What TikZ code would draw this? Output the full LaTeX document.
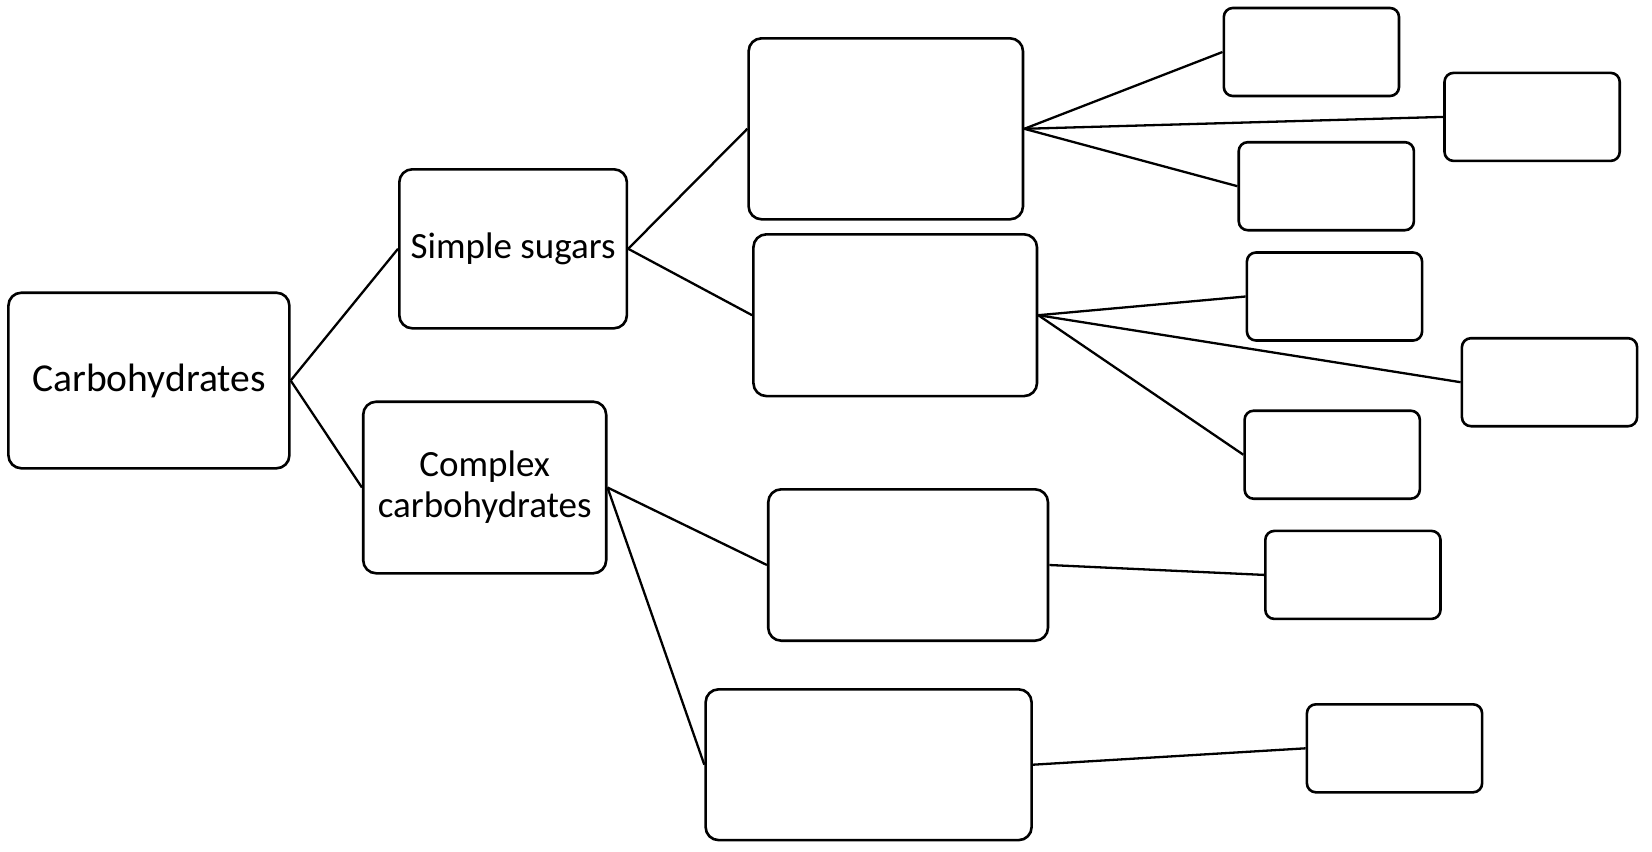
\documentclass[tikz,border=0pt]{standalone}
\usepackage{fontspec}
\setmainfont{Carlito}
\begin{document}
\begin{tikzpicture}[x=0.5pt,y=-0.5pt,
  box/.style={draw=black, line width=1.3pt, fill=white, rounded corners=6.5pt, align=center, inner sep=0pt},
  leaf/.style={box, rounded corners=4.5pt, minimum width=87.6pt, minimum height=44pt},
  link/.style={draw=black, line width=1.15pt},
  bigtext/.style={font=\fontsize{19.8pt}{20pt}\selectfont},
  midtext/.style={font=\fontsize{18.5pt}{20.4pt}\selectfont}]
\useasboundingbox (0,0) rectangle (1652,851);
% first and second levels
\node[box, bigtext, minimum width=140.5pt, minimum height=87.8pt] (carb) at (148.9,380.5) {Carbohydrates};
\node[box, midtext, minimum width=113.8pt, minimum height=79.5pt] (simple) at (513.1,248.8) {Simple sugars};
\node[box, midtext, minimum width=121.5pt, minimum height=85.8pt] (complex) at (484.7,487.5) {Complex\\carbohydrates};
% third level
\node[box, minimum width=137.2pt, minimum height=90.5pt] (a) at (885.8,128.8) {};
\node[box, minimum width=141.8pt, minimum height=80.9pt] (b) at (895.2,315.2) {};
\node[box, minimum width=139.9pt, minimum height=75.7pt] (c) at (908.1,565) {};
\node[box, minimum width=163pt, minimum height=75.4pt] (d) at (868.6,764.7) {};
% leaves
\node[leaf] (a1) at (1311.4,52) {};
\node[leaf] (a2) at (1532.1,116.9) {};
\node[leaf] (a3) at (1326.3,186.2) {};
\node[leaf] (b1) at (1334.5,296.5) {};
\node[leaf] (b2) at (1549.5,382.2) {};
\node[leaf] (b3) at (1332.2,454.7) {};
\node[leaf] (c1) at (1352.9,574.9) {};
\node[leaf] (d1) at (1394.5,748.3) {};
% connectors
\draw[link] (carb.east) -- (simple.west);
\draw[link] (carb.east) -- (complex.west);
\draw[link] (simple.east) -- (a.west);
\draw[link] (simple.east) -- (b.west);
\draw[link] (complex.east) -- (c.west);
\draw[link] (complex.east) -- (d.west);
\draw[link] (a.east) -- (a1.west);
\draw[link] (a.east) -- (a2.west);
\draw[link] (a.east) -- (a3.west);
\draw[link] (b.east) -- (b1.west);
\draw[link] (b.east) -- (b2.west);
\draw[link] (b.east) -- (b3.west);
\draw[link] (c.east) -- (c1.west);
\draw[link] (d.east) -- (d1.west);
\end{tikzpicture}
\end{document}
